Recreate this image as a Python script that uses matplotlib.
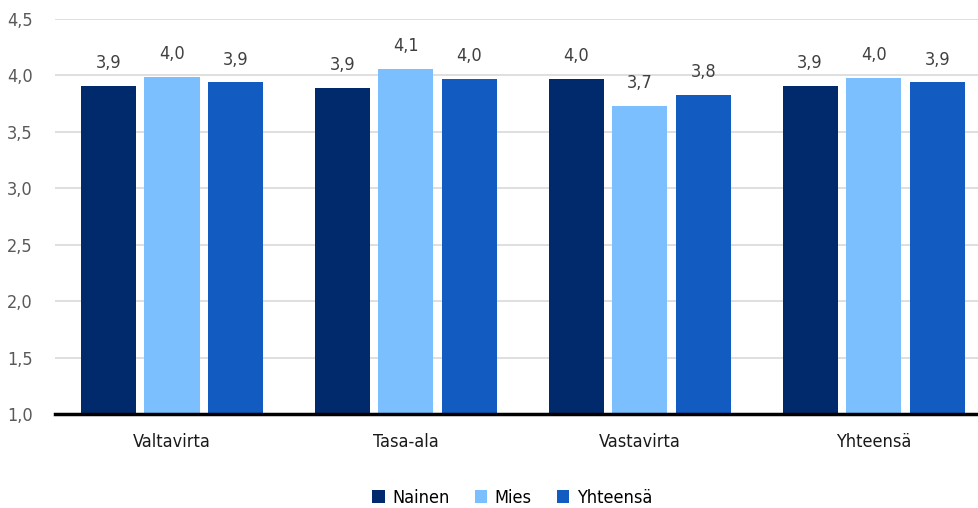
import matplotlib
matplotlib.use("Agg")
import matplotlib.pyplot as plt
import numpy as np

plt.rcParams['font.family'] = ['DejaVu Sans']
plt.rcParams['font.stretch'] = 'condensed'

categories = ["Valtavirta", "Tasa-ala", "Vastavirta", "Yhteensä"]
series = ["Nainen", "Mies", "Yhteensä"]
nainen = [3.91, 3.89, 3.97, 3.91]
mies = [3.99, 4.06, 3.73, 3.98]
yhteensa = [3.94, 3.97, 3.83, 3.94]
values = [nainen, mies, yhteensa]
colors = ["#002A6C", "#7BBFFF", "#125BC0"]
yticks = [1.0, 1.5, 2.0, 2.5, 3.0, 3.5, 4.0, 4.5]

fig = plt.figure(figsize=(9.79, 5.08), dpi=100)
ax = fig.add_axes([55/979, 1-414/508, 1-55/979, (414-19)/508])

x = np.arange(len(categories))
width = 0.2355
step = 0.272
for i, (name, vals, c) in enumerate(zip(series, values, colors)):
    pos = x + (i-1)*step
    ax.bar(pos, [v-1.0 for v in vals], width, bottom=1.0, color=c, label=name, zorder=3)
    for p, v in zip(pos, vals):
        ax.text(p, v + 0.12, f"{v:.1f}".replace(".", ","), ha="center", va="bottom",
                fontsize=13, color="#404040", stretch='condensed')

ax.set_ylim(1.0, 4.5)
ax.set_xlim(-0.5, 3.45)
ax.set_yticks(yticks)
ax.set_yticklabels([f"{t:.1f}".replace(".", ",") for t in yticks], fontsize=13,
                   color="#595959", stretch='condensed')
ax.set_xticks(x)
ax.set_xticklabels(categories, fontsize=13, color="#1a1a1a", stretch='condensed')
ax.tick_params(axis='both', length=0)
ax.tick_params(axis='y', pad=16)
ax.tick_params(axis='x', pad=14)
ax.yaxis.grid(True, color="#D9D9D9", linewidth=1.2, zorder=0)
for s in ["top", "right", "left"]:
    ax.spines[s].set_visible(False)
ax.spines["bottom"].set_linewidth(2.5)
ax.spines["bottom"].set_color("black")
ax.spines["bottom"].set_zorder(4)

leg = fig.legend(loc="lower center", bbox_to_anchor=(0.523, -0.012), ncol=3, frameon=False,
                 prop={'size': 13, 'stretch': 'condensed'},
                 handlelength=0.7, handleheight=0.7, handletextpad=0.4,
                 columnspacing=1.4, borderaxespad=0.0)

fig.savefig("out.png", dpi=100)
